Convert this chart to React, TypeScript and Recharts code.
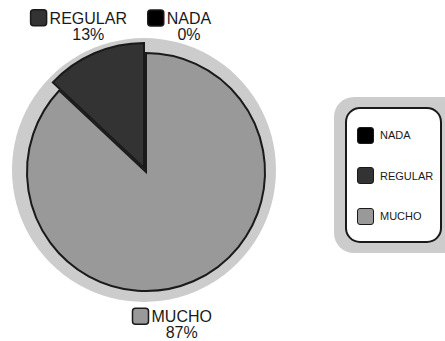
import React from "react";
import { PieChart, Pie, Cell, Legend } from "recharts";

const categories = ["NADA", "REGULAR", "MUCHO"];
const values = [0, 13, 87];
const colors = ["#000000", "#333333", "#999999"];

// the REGULAR slice is pulled out of the pie
const exploded = ["REGULAR"];

const data = categories.map((name, i) => ({ name, value: values[i] }));

const FONT = "'Liberation Sans', Arial, sans-serif";
const INK = "#1a1a1a";

// Excel moved the labels sideways so they do not run into each other
const labelNudge: Record<string, { dx: number; dy: number }> = {
  NADA: { dx: 43, dy: 14 },
  REGULAR: { dx: 9, dy: 0 },
  MUCHO: { dx: -31, dy: -10 },
};

const measure = (text: string, size: number) => {
  const ctx = document.createElement("canvas").getContext("2d");
  if (!ctx) return text.length * size * 0.7;
  ctx.font = `${size}px 'Liberation Sans'`;
  return ctx.measureText(text).width;
};

const renderLabel = (props: any) => {
  const { cx, cy, midAngle, name, percent, index } = props;
  const rad = Math.PI / 180;
  const r = 168;
  const nudge = labelNudge[name] || { dx: 0, dy: 0 };
  const x = cx + r * Math.cos(-midAngle * rad) + nudge.dx;
  const y = cy + r * Math.sin(-midAngle * rad) + nudge.dy;
  const w = measure(name, 16);
  const sq = 16;
  return (
    <g key={`lbl-${index}`}>
      <rect
        x={x - w / 2 - sq - 3}
        y={y - 8}
        width={sq}
        height={sq}
        rx={3}
        fill={colors[categories.indexOf(name)]}
        stroke={INK}
        strokeWidth={1.5}
      />
      <text x={x} y={y + 6} textAnchor="middle" fontSize={16} fontFamily={FONT} fill={INK}>
        {name}
      </text>
      <text x={x} y={y + 22} textAnchor="middle" fontSize={16} fontFamily={FONT} fill={INK}>
        {`${Math.round(percent * 100)}%`}
      </text>
    </g>
  );
};

const LegendBox = () => (
  <div
    style={{
      background: "#cccccc",
      borderRadius: 20,
      padding: "10px 11px",
      width: 140,
      boxSizing: "border-box",
    }}
  >
    <div
      style={{
        width: 97,
        height: 136,
        boxSizing: "border-box",
        border: `2px solid ${INK}`,
        borderRadius: 15,
        background: "#ffffff",
        paddingTop: 6,
        paddingLeft: 10,
      }}
    >
      {categories.map((name, i) => (
        <div
          key={name}
          style={{ display: "flex", alignItems: "center", height: 40.5 }}
        >
          <div
            style={{
              width: 17,
              height: 17,
              boxSizing: "border-box",
              border: `1.5px solid ${INK}`,
              borderRadius: 3,
              background: colors[i],
              marginRight: 6,
            }}
          />
          <span style={{ fontFamily: FONT, fontSize: 11, color: INK }}>{name}</span>
        </div>
      ))}
    </div>
  </div>
);

export default function App() {
  return (
    <div
      style={{
        position: "absolute",
        left: 0,
        top: 0,
        width: 445,
        height: 341,
        overflow: "hidden",
        background: "#ffffff",
      }}
    >
      <PieChart width={445} height={341} margin={{ top: 0, right: 0, bottom: 0, left: 0 }}>
        {/* light grey disc behind the pie */}
        <Pie
          data={[{ name: "bg", value: 1 }]}
          dataKey="value"
          cx={144}
          cy={170}
          outerRadius={132}
          fill="#cccccc"
          stroke="none"
          isAnimationActive={false}
          legendType="none"
        />
        <Pie
          data={data}
          dataKey="value"
          nameKey="name"
          cx={146}
          cy={172}
          outerRadius={119}
          startAngle={90}
          endAngle={450}
          label={renderLabel}
          labelLine={false}
          isAnimationActive={false}
        >
          {data.map((d, i) =>
            exploded.includes(d.name) || d.value === 0 ? (
              <Cell key={d.name} fill="none" stroke="none" />
            ) : (
              <Cell key={d.name} fill={colors[i]} stroke={INK} strokeWidth={2} />
            )
          )}
        </Pie>
        <Pie
          data={data}
          dataKey="value"
          nameKey="name"
          cx={144}
          cy={168}
          outerRadius={125}
          startAngle={90}
          endAngle={450}
          isAnimationActive={false}
          legendType="none"
        >
          {data.map((d, i) =>
            exploded.includes(d.name) ? (
              <Cell key={d.name} fill={colors[i]} stroke={INK} strokeWidth={2} />
            ) : (
              <Cell key={d.name} fill="none" stroke="none" />
            )
          )}
        </Pie>
        <Legend
          content={<LegendBox />}
          wrapperStyle={{ position: "absolute", left: 334, top: 97, width: 140, bottom: "auto" }}
        />
      </PieChart>
    </div>
  );
}
